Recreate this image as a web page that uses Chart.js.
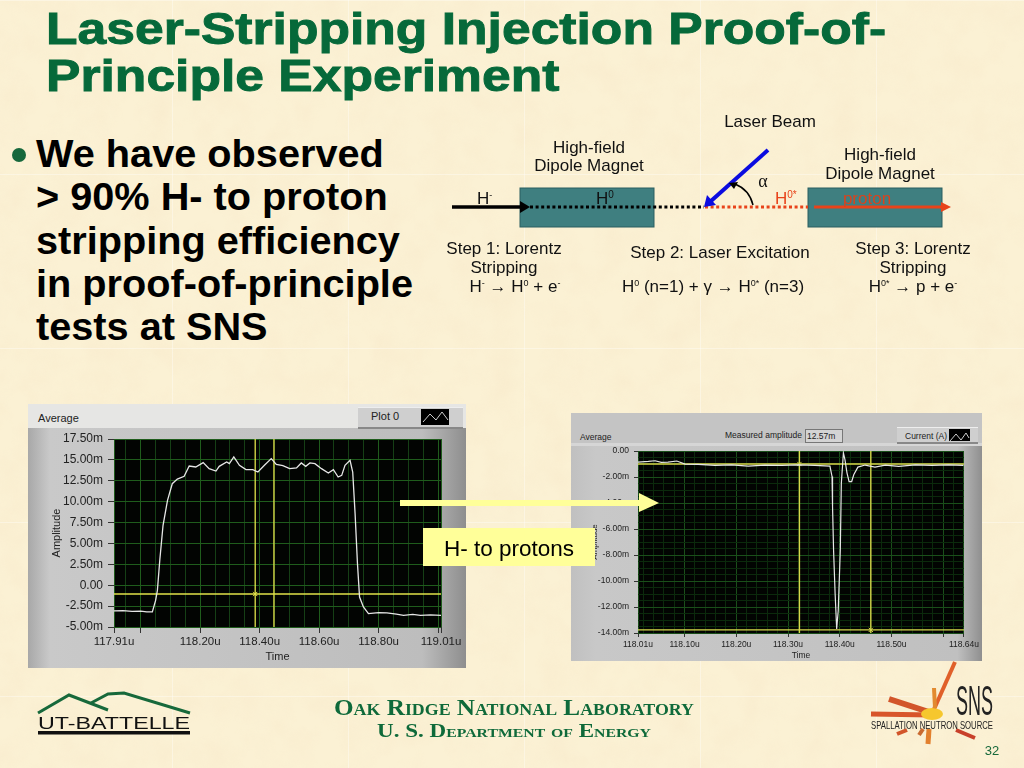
<!DOCTYPE html>
<html><head><meta charset="utf-8">
<script src="https://cdn.jsdelivr.net/npm/chart.js@4/dist/chart.umd.min.js"></script>
<style>
html,body{margin:0;padding:0;width:1024px;height:768px;overflow:hidden;background:#FBF0D2;}
#stage{position:relative;width:1024px;height:768px;overflow:hidden;font-family:"Liberation Sans",Arial,sans-serif;}
#bg,#over{position:absolute;left:0;top:0;}
#over{z-index:5;pointer-events:none;}
.seams{position:absolute;inset:0;background-image:linear-gradient(90deg,rgba(255,255,255,.35) 1px,transparent 1px),linear-gradient(180deg,rgba(255,255,255,.35) 1px,transparent 1px);background-size:176px 174px;background-position:172px 0,0 174px;}
.title{position:absolute;left:46px;top:5px;font:bold 44px/47px "Liberation Sans",Arial,sans-serif;color:#06693A;white-space:nowrap;transform:scaleX(1.173);transform-origin:0 0;-webkit-text-stroke:0.9px #06693A;}
.body{position:absolute;left:36px;top:132px;font:bold 39.7px/43.3px "Liberation Sans",Arial,sans-serif;color:#000;white-space:nowrap;}
.bullet{position:absolute;left:12px;top:148px;width:14px;height:14px;border-radius:50%;background:#16683C;}
.frame{position:absolute;box-sizing:border-box;}
#f1{left:28px;top:404px;width:438px;height:264px;background:linear-gradient(90deg,#a8a8a8 0,#c9c9c9 5%,#bdbdbd 90%,#8e8e8e 100%);}
#f1 .strip{position:absolute;left:0;top:0;right:0;height:24px;background:#e6e6e4;}
#f2{left:571px;top:413px;width:411px;height:248px;background:linear-gradient(90deg,#c0c0c0 0,#c8c8c8 6%,#c0c0c0 94%,#8f8f8f 100%);}
#f2 .strip{position:absolute;left:0;top:0;right:0;height:30px;background:#c4c4c4;border-bottom:3px solid #d6d6d6;}
.lbl{position:absolute;color:#222;white-space:nowrap;}
.btn{position:absolute;background:#cfcfcf;border-top:1px solid #eee;border-bottom:2px solid #888;box-sizing:border-box;}
.sw{position:absolute;background:#000;}
canvas{position:absolute;left:0;top:0;}
</style></head><body>
<div id="stage">
<svg id="bg" width="1024" height="768">
  <filter id="mottle" x="0" y="0" width="100%" height="100%">
    <feTurbulence type="fractalNoise" baseFrequency="0.035" numOctaves="4" seed="7"/>
    <feColorMatrix type="matrix" values="0 0 0 0 0.93  0 0 0 0 0.80  0 0 0 0 0.58  0.9 0.9 0 0 -0.72"/>
  </filter>
  <rect width="1024" height="768" fill="#FBF1D4"/>
  <rect width="1024" height="768" filter="url(#mottle)" opacity="0.55"/>
</svg>
<div class="seams"></div>
<div class="title">Laser-Stripping Injection Proof-of-<br>Principle Experiment</div>
<div class="bullet"></div>
<div class="body">We have observed<br>&gt; 90% H- to proton<br>stripping efficiency<br>in proof-of-principle<br>tests at SNS</div>

<div class="frame" id="f1">
  <div class="strip"></div>
  <div class="lbl" style="left:10px;top:8px;font-size:11px;">Average</div>
  <div class="btn" style="left:330px;top:3px;width:105px;height:22px;"></div>
  <div class="lbl" style="left:343px;top:6px;font-size:11px;">Plot 0</div>
  <div class="sw" style="left:393px;top:5px;width:28px;height:16px;"><svg width="28" height="16"><polyline points="2,13 9,5 15,11 21,3 27,11" fill="none" stroke="#ccc" stroke-width="1"/></svg></div>
  <canvas id="leftChart" width="438" height="264" style="width:438px;height:264px;"></canvas>
</div>

<div class="frame" id="f2">
  <div class="strip"></div>
  <div class="lbl" style="left:9px;top:19px;font-size:8.5px;">Average</div>
  <div class="lbl" style="left:154px;top:17px;font-size:8.5px;">Measured amplitude</div>
  <div class="lbl" style="left:234px;top:16px;width:35px;height:12px;border:1px solid #777;background:#d4d4d4;font-size:8.5px;line-height:12px;padding-left:1px;">12.57m</div>
  <div class="btn" style="left:326px;top:14px;width:81px;height:17px;"></div>
  <div class="lbl" style="left:334px;top:18px;font-size:8.5px;">Current (A)</div>
  <div class="sw" style="left:378px;top:16px;width:21px;height:12px;"><svg width="21" height="12"><polyline points="1,10 7,3 12,9 17,2 20,7" fill="none" stroke="#ccc" stroke-width="1"/></svg></div>
  <canvas id="rightChart" width="411" height="248" style="width:411px;height:248px;"></canvas>
</div>

<svg id="over" width="1024" height="768" font-family="Liberation Sans, Arial, sans-serif" font-size="17" fill="#111">
  <!-- diagram -->
  <rect x="520" y="188" width="134" height="39" fill="#3F7F80" stroke="#2b5f60"/>
  <rect x="808" y="188" width="134" height="39" fill="#3F7F80" stroke="#2b5f60"/>
  <line x1="452" y1="207" x2="522" y2="207" stroke="#000" stroke-width="3.5"/>
  <path d="M520,201 L530,207 L520,213 Z" fill="#000"/>
  <line x1="530" y1="207" x2="704" y2="207" stroke="#000" stroke-width="3.2" stroke-dasharray="3 2.6"/>
  <line x1="705" y1="207" x2="808" y2="207" stroke="#E8431A" stroke-width="3.2" stroke-dasharray="3 2.6"/>
  <line x1="814" y1="207" x2="944" y2="207" stroke="#E8431A" stroke-width="3.2"/>
  <path d="M941,202 L951,207 L941,212 Z" fill="#E8431A"/>
  <line x1="768" y1="150" x2="711" y2="201" stroke="#0B0BE0" stroke-width="4"/>
  <path d="M704,207 L707,195 L716,205 Z" fill="#0B0BE0"/>
  <path d="M753,205 A30,30 0 0 0 735,184" fill="none" stroke="#000" stroke-width="1.5"/>
  <path d="M729,183 L738,182 L734,189 Z" fill="#000"/>
  <text x="763" y="187" text-anchor="middle" font-family="Liberation Serif, serif" font-size="18">α</text>

  <text x="770" y="127" text-anchor="middle">Laser Beam</text>
  <text x="589" y="153" text-anchor="middle">High-field</text>
  <text x="589" y="171" text-anchor="middle">Dipole Magnet</text>
  <text x="880" y="160" text-anchor="middle">High-field</text>
  <text x="880" y="179" text-anchor="middle">Dipole Magnet</text>
  <text x="477" y="204">H<tspan font-size="9" dy="-6">-</tspan></text>
  <text x="596" y="204">H<tspan font-size="10" dy="-6">0</tspan></text>
  <text x="775" y="204" fill="#E8431A">H<tspan font-size="10" dy="-6">0*</tspan></text>
  <text x="867" y="204" text-anchor="middle" fill="#D8431E">proton</text>
  <text x="504" y="254" text-anchor="middle">Step 1: Lorentz</text>
  <text x="504" y="273" text-anchor="middle">Stripping</text>
  <text x="515" y="292" text-anchor="middle">H<tspan font-size="9" dy="-6">-</tspan><tspan dy="6"> → H</tspan><tspan font-size="9" dy="-6">0</tspan><tspan dy="6"> + e</tspan><tspan font-size="9" dy="-6">-</tspan></text>
  <text x="720" y="258" text-anchor="middle">Step 2: Laser Excitation</text>
  <text x="713" y="292" text-anchor="middle">H<tspan font-size="9" dy="-6">0</tspan><tspan dy="6"> (n=1) + γ → H</tspan><tspan font-size="9" dy="-6">0*</tspan><tspan dy="6"> (n=3)</tspan></text>
  <text x="913" y="254" text-anchor="middle">Step 3: Lorentz</text>
  <text x="913" y="273" text-anchor="middle">Stripping</text>
  <text x="913" y="292" text-anchor="middle">H<tspan font-size="9" dy="-6">0*</tspan><tspan dy="6"> → p + e</tspan><tspan font-size="9" dy="-6">-</tspan></text>

  <!-- callout -->
  <rect x="400" y="500" width="240" height="6" fill="#FFFF99"/>
  <path d="M639,493 L659,503 L639,512 Z" fill="#FFFF99"/>
  <rect x="423" y="528" width="172" height="38" fill="#FFFF99"/>
  <text x="509" y="556" text-anchor="middle" font-size="22.5" fill="#000">H- to protons</text>

  <!-- UT-Battelle logo -->
  <g fill="none" stroke="#17693B" stroke-width="3">
    <polyline points="38,713 69,695 108,710"/>
    <polyline points="91,703 108,694 124,693 190,713"/>
  </g>
  <text x="38" y="729" font-size="17" fill="#111" textLength="152" lengthAdjust="spacingAndGlyphs">UT-BATTELLE</text>
  <rect x="38" y="731" width="152" height="3.5" fill="#111"/>

  <!-- footer -->
  <text x="514" y="715" text-anchor="middle" font-family="Liberation Serif, serif" font-weight="bold" font-size="24" fill="#0F6A3A" style="font-variant:small-caps" textLength="360" lengthAdjust="spacingAndGlyphs">Oak Ridge National Laboratory</text>
  <text x="514" y="737" text-anchor="middle" font-family="Liberation Serif, serif" font-weight="bold" font-size="19" fill="#0F6A3A" style="font-variant:small-caps" textLength="274" lengthAdjust="spacingAndGlyphs">U. S. Department of Energy</text>

  <!-- SNS logo -->
  <g stroke-linecap="butt" fill="none">
    <line x1="931" y1="716" x2="955" y2="662" stroke="#E0602A" stroke-width="4"/>
    <line x1="935" y1="708" x2="934" y2="688" stroke="#E28A30" stroke-width="4"/>
    <line x1="932" y1="713" x2="889" y2="699" stroke="#D2552A" stroke-width="6"/>
    <line x1="932" y1="715" x2="871" y2="714" stroke="#D8552A" stroke-width="5"/>
    <line x1="897" y1="734" x2="907" y2="730" stroke="#D2552A" stroke-width="4"/>
    <line x1="919" y1="735" x2="923" y2="729" stroke="#C96A30" stroke-width="4"/>
    <line x1="929" y1="729" x2="928" y2="744" stroke="#E2802E" stroke-width="5"/>
    <line x1="956" y1="730" x2="975" y2="738" stroke="#C8402A" stroke-width="4"/>
  </g>
  <ellipse cx="932" cy="714" rx="11" ry="6" fill="#F6C72E"/>
  <text x="956" y="715" font-size="42" fill="#222" textLength="37" lengthAdjust="spacingAndGlyphs">SNS</text>
  <text x="871" y="729" font-size="11" fill="#222" textLength="122" lengthAdjust="spacingAndGlyphs">SPALLATION NEUTRON SOURCE</text>
  <text x="992" y="755" text-anchor="middle" font-size="13" fill="#17693B">32</text>
</svg>
</div>

<script>
// ---------- left plot (Average, H- current) ----------
const leftTime = [117.91,117.94,117.971,118.00,118.02,118.039,118.050,118.056,118.064,118.075,118.090,118.106,118.123,118.146,118.163,118.185,118.210,118.230,118.253,118.264,118.289,118.298,118.313,118.332,118.354,118.377,118.394,118.416,118.439,118.456,118.478,118.501,118.524,118.540,118.555,118.569,118.586,118.608,118.631,118.648,118.664,118.676,118.687,118.704,118.713,118.721,118.729,118.736,118.749,118.766,118.800,118.828,118.860,118.884,118.915,118.941,118.975,119.01];
const leftAmplitude = [-3.08,-3.05,-3.12,-3.10,-3.18,-3.20,-1.81,-0.61,2.98,7.17,10.16,12.15,12.71,13.03,14.27,14.15,14.67,13.95,13.67,14.23,14.75,14.55,15.35,14.35,13.83,13.83,13.55,14.35,15.15,14.47,14.31,13.95,14.03,14.63,14.23,14.63,14.55,13.95,13.43,13.83,12.95,13.15,14.35,14.95,13.55,8.57,2.58,-1.41,-2.60,-3.40,-3.28,-3.32,-3.45,-3.60,-3.50,-3.60,-3.55,-3.62];
const leftCursorX = [118.385, 118.448];
const leftCursorY = [-1.05];
const leftXMajor = [117.91,118.0,118.2,118.4,118.6,118.8,119.0,119.01];
const leftXMinor = [117.95,118.05,118.1,118.15,118.25,118.3,118.35,118.45,118.5,118.55,118.65,118.7,118.75,118.85,118.9,118.95];
const leftXLabels = {"117.91":"117.91u","118.2":"118.20u","118.4":"118.40u","118.6":"118.60u","118.8":"118.80u","119.01":"119.01u"};
const leftYTicks = [-5,-2.5,0,2.5,5,7.5,10,12.5,15,17.5];

// ---------- right plot (Average, proton current) ----------
const rightTime = [118.010,118.030,118.043,118.055,118.068,118.085,118.101,118.126,118.159,118.191,118.223,118.255,118.288,118.320,118.352,118.381,118.385,118.386,118.388,118.391,118.394,118.397,118.401,118.403,118.407,118.410,118.414,118.418,118.423,118.427,118.435,118.449,118.468,118.488,118.514,118.546,118.578,118.610,118.639];
const rightAmplitude = [-0.85,-0.80,-0.75,-0.88,-0.85,-0.77,-1.01,-1.03,-1.11,-1.06,-1.16,-1.08,-1.11,-1.06,-1.11,-1.16,-1.96,-4.28,-7.63,-10.98,-13.69,-12.27,-7.63,-2.47,-0.15,-0.67,-1.70,-2.35,-2.35,-1.83,-1.24,-1.08,-1.24,-1.08,-1.19,-1.06,-1.11,-1.06,-1.11];
const rightCursorX = [118.322, 118.460];
const rightCursorY = [-1.0, -13.76];
const rightXMajor = [118.01,118.1,118.2,118.3,118.4,118.5,118.6,118.64];
const rightXMinor = [118.02,118.04,118.06,118.08,118.12,118.14,118.16,118.18,118.22,118.24,118.26,118.28,118.32,118.34,118.36,118.38,118.42,118.44,118.46,118.48,118.52,118.54,118.56,118.58,118.62];
const rightXLabels = {"118.01":"118.01u","118.1":"118.10u","118.2":"118.20u","118.3":"118.30u","118.4":"118.40u","118.5":"118.50u","118.64":"118.64u"};
const rightYMajor = [-14,-12,-10,-8,-6,-4,-2,0];
const rightYMinor = [-13.5,-13,-12.5,-11.5,-11,-10.5,-9.5,-9,-8.5,-7.5,-7,-6.5,-5.5,-5,-4.5,-3.5,-3,-2.5,-1.5,-1,-0.5];

const SANS = '"Liberation Sans", Arial, sans-serif';
const blackPlot = {id:'blackPlot',beforeDraw(c){const a=c.chartArea,x=c.ctx;x.save();x.fillStyle='#020402';x.fillRect(a.left,a.top,a.width,a.height);x.restore();}};
const pairs=(xs,ys)=>xs.map((v,i)=>({x:v,y:ys[i]}));

function plot(id,cfg){
  const cx=[...cfg.xMajor,...cfg.xMinor].sort((a,b)=>a-b);
  const cy=[...cfg.yMajor,...cfg.yMinor].sort((a,b)=>a-b);
  const isMajX=v=>cfg.xMajor.includes(v), isMajY=v=>cfg.yMajor.includes(v);
  const vLines=cfg.cursorX.map(v=>({data:[{x:v,y:cfg.yMin},{x:v,y:cfg.yMax}],showLine:true,borderColor:cfg.cur,borderWidth:cfg.curW,pointRadius:0}));
  const hLines=cfg.cursorY.map(v=>({data:[{x:cfg.xMin,y:v},{x:cfg.xMax,y:v}],showLine:true,borderColor:cfg.cur,borderWidth:cfg.curW,pointRadius:0}));
  const marks=cfg.cursorY.map((v,i)=>({data:[{x:cfg.cursorX[i],y:v}],showLine:false,pointStyle:'crossRot',pointRadius:3,pointBorderColor:cfg.cur,pointBorderWidth:1,pointBackgroundColor:cfg.cur}));
  new Chart(document.getElementById(id),{
    type:'scatter',
    data:{datasets:[
      {data:pairs(cfg.t,cfg.a),showLine:true,borderColor:'#E6E6E6',borderWidth:cfg.lineW,pointRadius:0,tension:0},
      ...vLines,...hLines,...marks]},
    plugins:[blackPlot],
    options:{
      responsive:false,animation:false,devicePixelRatio:1,
      events:[],
      layout:{autoPadding:false,padding:{top:cfg.padTop,right:cfg.padRight,left:0,bottom:0}},
      plugins:{legend:{display:false},tooltip:{enabled:false},title:{display:false}},
      scales:{
        x:{type:'linear',min:cfg.xMin,max:cfg.xMax,
          afterBuildTicks(s){s.ticks=cx.map(v=>({value:v}));},
          afterFit(s){s.height=cfg.bottomH;},
          grid:{color:c=>c.tick&&isMajX(c.tick.value)?cfg.gMaj:cfg.gMinV,lineWidth:1,drawTicks:true,tickLength:cfg.tickLen,
                tickColor:c=>c.tick&&isMajX(c.tick.value)?'#333':'rgba(0,0,0,0)'},
          border:{display:false},
          ticks:{autoSkip:false,maxRotation:0,minRotation:0,padding:cfg.xPad,color:'#222',font:{family:SANS,size:cfg.fx},
                 callback:v=>cfg.xLabels[String(v)]||''},
          title:{display:true,text:'Time',color:'#222',font:{family:SANS,size:cfg.fxT},padding:{top:0,bottom:cfg.xTitlePad}}
        },
        y:{type:'linear',min:cfg.yMin,max:cfg.yMax,
          afterBuildTicks(s){s.ticks=cy.map(v=>({value:v}));},
          afterFit(s){s.width=cfg.leftW;},
          grid:{color:c=>c.tick&&isMajY(c.tick.value)?cfg.gMaj:cfg.gMinH,lineWidth:1,tickLength:cfg.tickLen,
                tickColor:c=>c.tick&&isMajY(c.tick.value)?'#333':'rgba(0,0,0,0)'},
          border:{display:false},
          ticks:{autoSkip:false,padding:cfg.yPad,color:'#222',font:{family:SANS,size:cfg.fy},
                 callback:v=>isMajY(v)?(v===0?'0.00':v.toFixed(2)+'m'):''},
          title:{display:true,text:'Amplitude',color:'#222',font:{family:SANS,size:cfg.fyT},padding:{top:cfg.yTitlePad,bottom:0}}
        }
      }
    }
  });
}

plot('leftChart',{t:leftTime,a:leftAmplitude,cursorX:leftCursorX,cursorY:leftCursorY,
  xMin:117.91,xMax:119.01,yMin:-5,yMax:17.5,xMajor:leftXMajor,xMinor:leftXMinor,xLabels:leftXLabels,
  yMajor:leftYTicks,yMinor:[],padTop:35,padRight:25,leftW:86,bottomH:41,tickLen:6,xPad:2,yPad:5,
  fx:11.5,fy:12,fxT:11,fyT:11,xTitlePad:4,yTitlePad:22,lineW:1.3,curW:1.3,cur:'#E2E24A',gMaj:'#1F5C1C',gMinV:'#153F15',gMinH:'#153F15'});

plot('rightChart',{t:rightTime,a:rightAmplitude,cursorX:rightCursorX,cursorY:rightCursorY,
  xMin:118.01,xMax:118.64,yMin:-14,yMax:0,xMajor:rightXMajor,xMinor:rightXMinor,xLabels:rightXLabels,
  yMajor:rightYMajor,yMinor:rightYMinor,padTop:38,padRight:18,leftW:67,bottomH:28,tickLen:4,xPad:3,yPad:5,
  fx:8.5,fy:8.5,fxT:8.5,fyT:8,xTitlePad:0,yTitlePad:19,lineW:1.2,curW:1.4,cur:'#D8D84A',gMaj:'#1A4F1A',gMinV:'#0B2A0C',gMinH:'#0B2A0C'});
</script>
</body></html>
